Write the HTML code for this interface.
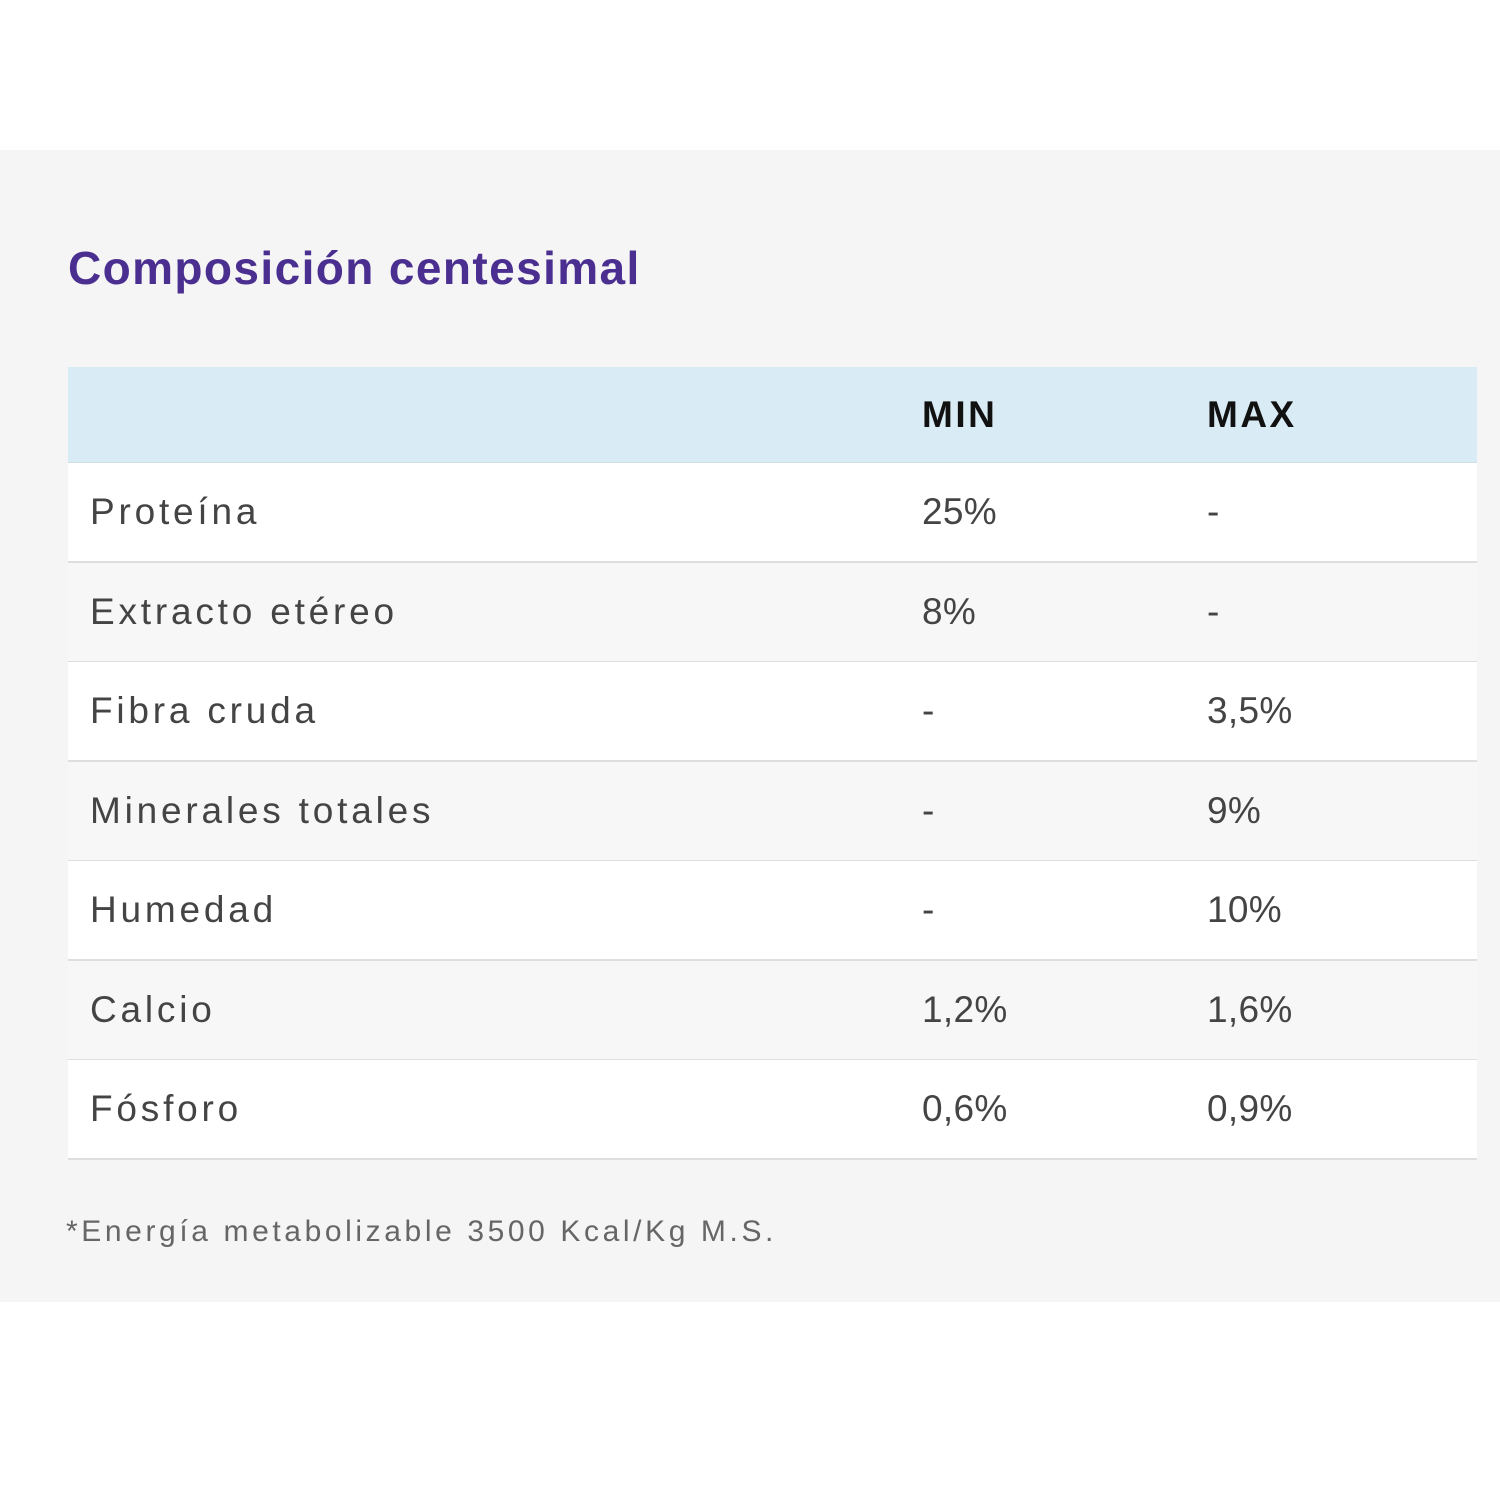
<!DOCTYPE html>
<html><head><meta charset="utf-8">
<style>
body{margin:0;width:1500px;height:1500px;background:#fff;position:relative;font-family:"Liberation Sans",sans-serif;overflow:hidden}
#panel{position:absolute;left:0;top:150px;width:1500px;height:1152px;background:#f5f5f5}
#title{position:absolute;left:68px;top:240px;font-size:46px;font-weight:bold;color:#4a2f90;letter-spacing:1.4px;line-height:56px}
.row{position:absolute;left:68px;width:1409px;border-bottom:2px solid #dedede;box-sizing:border-box}
.cell{position:absolute;top:0;font-size:37px;color:#444;letter-spacing:3.8px}
.val{letter-spacing:0.3px}
#head{top:367px;height:97px;background:#d9ebf5;border-bottom:2px solid #cfdde6}
.h{font-weight:bold;color:#111;font-size:37px;letter-spacing:2.5px}
#note{position:absolute;left:66px;top:1215px;font-size:30px;color:#666;letter-spacing:3.6px}
</style></head><body>
<div id="panel"></div>
<div id="title">Composición centesimal</div>
<div id="head" class="row">
<div class="cell h" style="left:854px;line-height:95px">MIN</div>
<div class="cell h" style="left:1139px;line-height:95px">MAX</div>
</div>
<div id="rows"></div>
<div id="note">*Energía metabolizable 3500 Kcal/Kg M.S.</div>
<script>
const names=["Proteína","Extracto etéreo","Fibra cruda","Minerales totales","Humedad","Calcio","Fósforo"];
const mins=["25%","8%","-","-","-","1,2%","0,6%"];
const maxs=["-","-","3,5%","9%","10%","1,6%","0,9%"];
const c=document.getElementById('rows');
names.forEach((n,i)=>{
 const top=463+i*99.5;
 const r=document.createElement('div');
 r.className='row';
 
 
 r.style.top=top+'px';r.style.height='100px';
 r.style.background=i%2?'#f7f7f7':'#fff';
 [[n,22],[mins[i],854],[maxs[i],1139]].forEach((v,j)=>{
  const d=document.createElement('div');
  d.className=j?'cell val':'cell';
  
  
  d.style.left=v[1]+'px';d.style.lineHeight='98px';
  d.textContent=v[0];
  r.appendChild(d);
 });
 c.appendChild(r);
});
</script>
</body></html>
